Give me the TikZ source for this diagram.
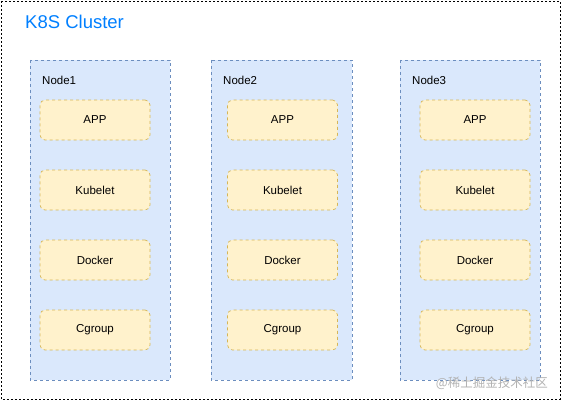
\documentclass[tikz,border=0pt]{standalone}
\usepackage{fontspec}
\setmainfont{Liberation Sans}
\newfontfamily\cjk{Noto Sans CJK SC}
\definecolor{nodefill}{HTML}{DAE8FC}
\definecolor{nodedraw}{HTML}{6C8EBF}
\definecolor{compfill}{HTML}{FFF2CC}
\definecolor{compdraw}{HTML}{D6B656}
\definecolor{titleblue}{HTML}{007FFF}
\begin{document}
\begin{tikzpicture}[x=1pt,y=-1pt,
  cluster/.style={draw=black, dash pattern=on 2pt off 2pt, line width=0.8pt},
  nodebox/.style={draw=nodedraw, fill=nodefill, dash pattern=on 3pt off 3pt, line width=0.7pt},
  comp/.style={draw=compdraw, fill=compfill, dash pattern=on 3pt off 3pt, line width=0.7pt, rounded corners=5pt, minimum width=110pt, minimum height=40pt, inner sep=0pt, font=\fontsize{11.5}{13}\selectfont},
  nodelabel/.style={anchor=west, inner sep=0pt, font=\fontsize{11.5}{13}\selectfont}
]
\useasboundingbox (0,0) rectangle (561,401);
\draw[cluster] (1,1) rectangle (560,399);
\node[anchor=west, inner sep=0pt, text=titleblue, font=\fontsize{18.5}{20}\selectfont] (title) at (25,22) {K8S Cluster};
\foreach \i/\xl/\xr/\xc in {1/30/170/95, 2/211/352/282.5, 3/400/540/475} {
  \draw[nodebox] (\xl,60) rectangle (\xr,380);
  \node[nodelabel] (n\i) at (\xl+12,80) {Node\i};
  \node[comp] (app\i) at (\xc,120) {APP};
  \node[comp] (kub\i) at (\xc,190) {Kubelet};
  \node[comp] (dock\i) at (\xc,260) {Docker};
  \node[comp] (cg\i) at (\xc,330) {Cgroup};
}
\node[anchor=east, inner sep=0pt, text=black!30, font=\cjk\fontsize{12.5}{14}\selectfont] (wm) at (548,383) {@稀土掘金技术社区};
\end{tikzpicture}
\end{document}
